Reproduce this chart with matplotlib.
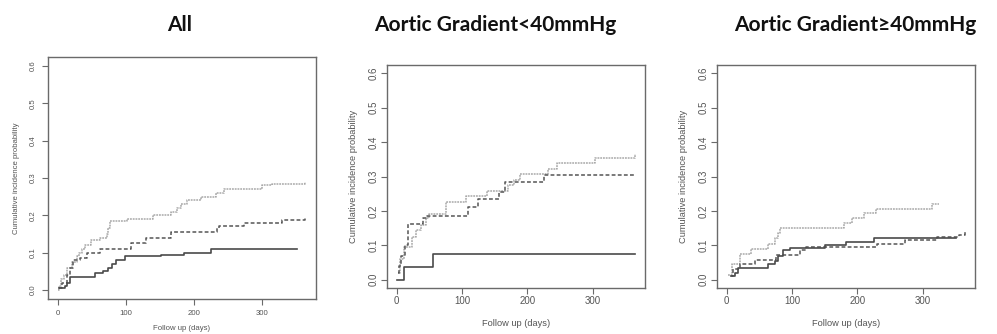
import matplotlib
matplotlib.use("Agg")
import matplotlib.pyplot as plt

# Cumulative incidence step curves (days, cumulative probability)
titles = ["All", "Aortic Gradient<40mmHg", "Aortic Gradient\u226540mmHg"]

all_light_t = [0, 1, 4, 9, 14, 21, 28, 31, 35, 40, 48, 62, 72, 74, 76, 77, 101, 140, 166, 175, 181, 190, 210, 232, 244, 300, 315, 364]
all_light_v = [0, 0.01, 0.03, 0.04, 0.06, 0.075, 0.09, 0.10, 0.11, 0.12, 0.135, 0.14, 0.15, 0.165, 0.175, 0.185, 0.19, 0.20, 0.21, 0.22, 0.23, 0.24, 0.25, 0.26, 0.27, 0.28, 0.285, 0.29]
all_dash_t = [2, 6, 14, 18, 22, 33, 43, 62, 108, 130, 166, 234, 237, 273, 329, 364]
all_dash_v = [0.005, 0.02, 0.04, 0.06, 0.08, 0.085, 0.10, 0.11, 0.125, 0.14, 0.155, 0.165, 0.172, 0.18, 0.187, 0.195]
all_solid_t = [2, 11, 14, 18, 55, 67, 74, 79, 86, 98, 152, 186, 225, 352]
all_solid_v = [0.005, 0.01, 0.02, 0.036, 0.045, 0.05, 0.06, 0.07, 0.08, 0.09, 0.095, 0.10, 0.11, 0.11]

low_light_t = [3, 6, 12, 24, 30, 37, 45, 50, 75, 106, 138, 170, 180, 188, 231, 245, 303, 364]
low_light_v = [0.02, 0.06, 0.095, 0.125, 0.145, 0.16, 0.18, 0.19, 0.225, 0.242, 0.258, 0.275, 0.29, 0.307, 0.323, 0.34, 0.355, 0.365]
low_dash_t = [2, 4, 7, 13, 18, 40, 47, 109, 124, 157, 165, 226, 365]
low_dash_v = [0.02, 0.04, 0.068, 0.10, 0.163, 0.18, 0.186, 0.21, 0.235, 0.255, 0.283, 0.305, 0.305]
low_solid_t = [0, 12, 56, 365]
low_solid_v = [0.0, 0.038, 0.075, 0.075]

high_light_t = [2, 8, 20, 38, 63, 74, 78, 82, 180, 191, 210, 228, 314, 324]
high_light_v = [0.015, 0.045, 0.075, 0.09, 0.105, 0.12, 0.135, 0.15, 0.165, 0.18, 0.193, 0.207, 0.22, 0.22]
high_dash_t = [6, 10, 20, 43, 75, 112, 122, 230, 272, 322, 355, 365]
high_dash_v = [0.01, 0.03, 0.045, 0.057, 0.072, 0.085, 0.095, 0.105, 0.115, 0.125, 0.13, 0.14]
high_solid_t = [8, 13, 18, 63, 74, 79, 86, 97, 150, 183, 226, 351]
high_solid_v = [0.01, 0.02, 0.035, 0.045, 0.055, 0.07, 0.085, 0.093, 0.10, 0.11, 0.12, 0.12]

panels = [
    (all_light_t, all_light_v, all_dash_t, all_dash_v, all_solid_t, all_solid_v),
    (low_light_t, low_light_v, low_dash_t, low_dash_v, low_solid_t, low_solid_v),
    (high_light_t, high_light_v, high_dash_t, high_dash_v, high_solid_t, high_solid_v),
]

x_ticks = [0, 100, 200, 300]
y_ticks = [0.0, 0.1, 0.2, 0.3, 0.4, 0.5, 0.6]

W, H = 997, 334
fig = plt.figure(figsize=(W / 100, H / 100), dpi=100)
fig.patch.set_facecolor("white")

# axes boxes in pixel coordinates: left, top, right, bottom
boxes = [(48, 57, 316, 299), (387, 65, 645, 288), (717, 65, 975, 288)]
title_x = [180, 495, 855]
# per-panel text sizes (the first panel is rendered at a smaller scale)
tick_fs = [5.6, 7.0, 7.0]
label_fs = [5.6, 6.7, 6.7]
tick_pad = [4, 2, 2]
xlabel_pad = [6, 9, 9]
ylabel_pad = [7, 8, 8]

frame_col = "#6a6a6a"
text_col = "#555555"

for i, (box, data) in enumerate(zip(boxes, panels)):
    l, t, r, b = box
    ax = fig.add_axes([l / W, 1 - b / H, (r - l) / W, (b - t) / H])
    lt, lv, dt, dv, st, sv = data
    ax.step(lt, lv, where="post", color="#a8a8a8", lw=1.1, linestyle=(0, (1.2, 0.6)))
    ax.step(dt, dv, where="post", color="#555555", lw=1.1, linestyle=(0, (2.5, 1.5)))
    ax.step(st, sv, where="post", color="#4a4a4a", lw=1.2)
    ax.set_xlim(-14.6, 379.6)
    ax.set_ylim(-0.024, 0.624)
    ax.set_xticks(x_ticks)
    ax.set_yticks(y_ticks)
    ax.set_xticklabels([str(v) for v in x_ticks], fontsize=tick_fs[i], color=text_col,
                       family="Liberation Sans")
    ax.set_yticklabels(["%.1f" % v for v in y_ticks], fontsize=tick_fs[i], color=text_col,
                       rotation=90, va="center", family="Liberation Sans")
    ax.tick_params(direction="out", length=4, width=0.8, color=frame_col, pad=tick_pad[i])
    for s in ax.spines.values():
        s.set_color(frame_col)
        s.set_linewidth(1.0)
    ax.set_ylabel("Cumulative incidence probability", fontsize=label_fs[i], color=text_col,
                  family="Liberation Sans", labelpad=ylabel_pad[i])
    ax.set_xlabel("Follow up (days)", fontsize=label_fs[i], color=text_col,
                  family="Liberation Sans", labelpad=xlabel_pad[i])
    fig.text(title_x[i] / W, 1 - 25 / H, titles[i], ha="center", va="center",
             fontsize=15, fontweight="bold", family=["Lato", "DejaVu Sans"],
             color="#111111")

fig.savefig("out.png", dpi=100, facecolor="white")
